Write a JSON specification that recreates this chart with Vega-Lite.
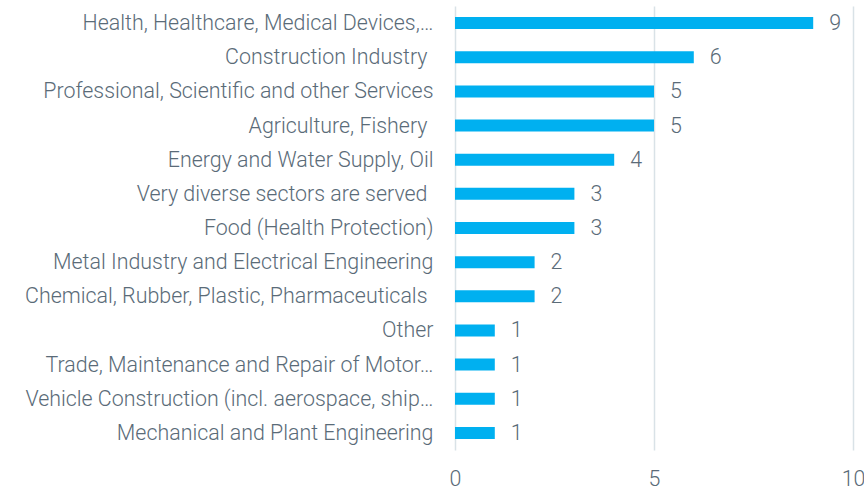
{
  "$schema": "https://vega.github.io/schema/vega-lite/v6.json",
  "width": 398,
  "height": 444,
  "autosize": "none",
  "padding": {"left": 455, "top": 6, "right": 11, "bottom": 40},
  "background": "white",
  "config": {"view": {"stroke": null}, "font": "Roboto"},
  "data": {"values": [
    {"sector": "Health, Healthcare, Medical Devices,…", "count": 9},
    {"sector": "Construction Industry ", "count": 6},
    {"sector": "Professional, Scientific and other Services", "count": 5},
    {"sector": "Agriculture, Fishery ", "count": 5},
    {"sector": "Energy and Water Supply, Oil", "count": 4},
    {"sector": "Very diverse sectors are served ", "count": 3},
    {"sector": "Food (Health Protection)", "count": 3},
    {"sector": "Metal Industry and Electrical Engineering", "count": 2},
    {"sector": "Chemical, Rubber, Plastic, Pharmaceuticals ", "count": 2},
    {"sector": "Other", "count": 1},
    {"sector": "Trade, Maintenance and Repair of Motor…", "count": 1},
    {"sector": "Vehicle Construction (incl. aerospace, ship…", "count": 1},
    {"sector": "Mechanical and Plant Engineering", "count": 1}
  ]},
  "encoding": {
    "y": {"field": "sector", "type": "nominal", "sort": null,
      "scale": {"paddingInner": 0, "paddingOuter": 0},
      "axis": {"title": null, "domain": false, "ticks": false,
        "labelPadding": {"condition": {"test": "slice(datum.label, -1) === ' '", "value": 28}, "value": 22},
        "labelFontSize": 21.4, "labelFont": "Roboto", "labelFontWeight": 300, "labelColor": "#5a6b78", "labelLimit": 500, "labelOffset": 1}},
    "x": {"field": "count", "type": "quantitative",
      "scale": {"domain": [0, 10]},
      "axis": {"title": null, "values": [0, 5, 10], "domain": false, "ticks": false, "grid": true,
        "gridColor": "#d9e2e7", "gridWidth": 1.5, "labelPadding": 18, "labelFontSize": 21.4,
        "labelFont": "Roboto", "labelFontWeight": 300, "labelColor": "#5a6b78", "labelFlush": false}}
  },
  "layer": [
    {"mark": {"type": "bar", "height": 12, "color": "#00b0f0"}},
    {"mark": {"type": "text", "align": "left", "dx": 16, "dy": 1, "fontSize": 21.4, "font": "Roboto", "fontWeight": 300, "color": "#5a6b78"},
     "encoding": {"text": {"field": "count", "type": "quantitative"}}}
  ]
}
